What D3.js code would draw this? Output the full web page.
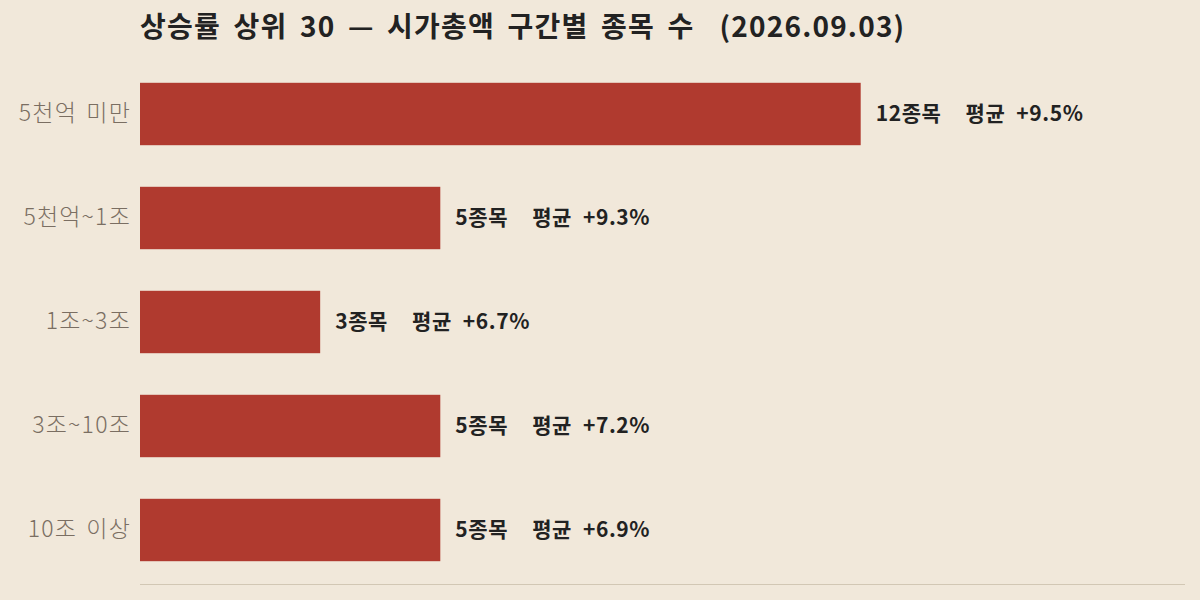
<!DOCTYPE html>
<html>
<head>
<meta charset="utf-8">
<script src="https://cdn.jsdelivr.net/npm/d3@7"></script>
<style>
  body { margin: 0; background: #f1e8da; }
  svg { display: block; }
  text { font-family: "Noto Sans CJK KR", "Noto Sans", sans-serif; }
</style>
</head>
<body>
<div id="chart"></div>
<script>
// data
var bands = ["5천억 미만", "5천억~1조", "1조~3조", "3조~10조", "10조 이상"];
var counts = [12, 5, 3, 5, 5];
var avgGain = [9.5, 9.3, 6.7, 7.2, 6.9];
var title = "상승률 상위 30 — 시가총액 구간별 종목 수  (2026.09.03)";

var width = 1200, height = 600,
    margin = {top: 62, right: 15, bottom: 18, left: 140};

var svg = d3.select("#chart")
  .append("svg")
    .attr("width", width)
    .attr("height", height);

svg.append("rect")
  .attr("width", width)
  .attr("height", height)
  .attr("fill", "#f1e8da");

var xScale = d3.scaleLinear()
  .domain([0, d3.max(counts) * 1.45])
  .range([margin.left, width - margin.right]);

var yScale = d3.scaleBand()
  .domain(bands)
  .range([margin.top, height - margin.bottom])
  .paddingInner(0.4)
  .paddingOuter(0.2);

var rows = bands.map(function (b, i) {
  return {band: b, count: counts[i], avg: avgGain[i]};
});

// bars
svg.selectAll(".bar")
  .data(rows)
  .enter().append("rect")
    .attr("class", "bar")
    .attr("x", xScale(0))
    .attr("y", function (d) { return yScale(d.band); })
    .attr("width", function (d) { return xScale(d.count) - xScale(0); })
    .attr("height", yScale.bandwidth())
    .attr("fill", "#b03a2f");

// value labels
var val = svg.selectAll(".val")
  .data(rows)
  .enter().append("text")
    .attr("class", "val")
    .attr("x", function (d) { return xScale(d.count) + 15; })
    .attr("y", function (d) { return yScale(d.band) + yScale.bandwidth() / 2; })
    .attr("dy", "0.35em")
    .attr("font-size", 21)
    .attr("font-weight", "bold")
    .attr("letter-spacing", 0.6)
    .attr("fill", "#222");
val.append("tspan").text(function (d) { return d.count + "종목"; });
val.append("tspan").attr("dx", 24).text("평균");
val.append("tspan").attr("dx", 11).text(function (d) { return "+" + d.avg.toFixed(1) + "%"; });

// category labels
var yAxis = d3.axisLeft(yScale).tickSize(0).tickPadding(9);
var gy = svg.append("g")
  .attr("transform", "translate(" + margin.left + ",0)")
  .call(yAxis);
gy.select(".domain").remove();
gy.selectAll("text")
  .attr("font-size", 23)
  .attr("font-weight", 300)
  .attr("letter-spacing", 1.2)
  .attr("word-spacing", 3)
  .attr("fill", "#7a6e62")
  .style("font-family", "'Noto Sans CJK KR', sans-serif");

// baseline
svg.append("line")
  .attr("x1", xScale(0))
  .attr("x2", width - margin.right)
  .attr("y1", height - 15.5)
  .attr("y2", height - 15.5)
  .attr("stroke", "#d2c7b4")
  .attr("stroke-width", 1.2);

// title
svg.append("text")
  .attr("x", margin.left)
  .attr("y", 37)
  .attr("font-size", 28)
  .attr("font-weight", "bold")
  .attr("letter-spacing", 1.2)
  .attr("word-spacing", 5)
  .attr("fill", "#222")
  .style("white-space", "pre")
  .text(title);
</script>
</body>
</html>
